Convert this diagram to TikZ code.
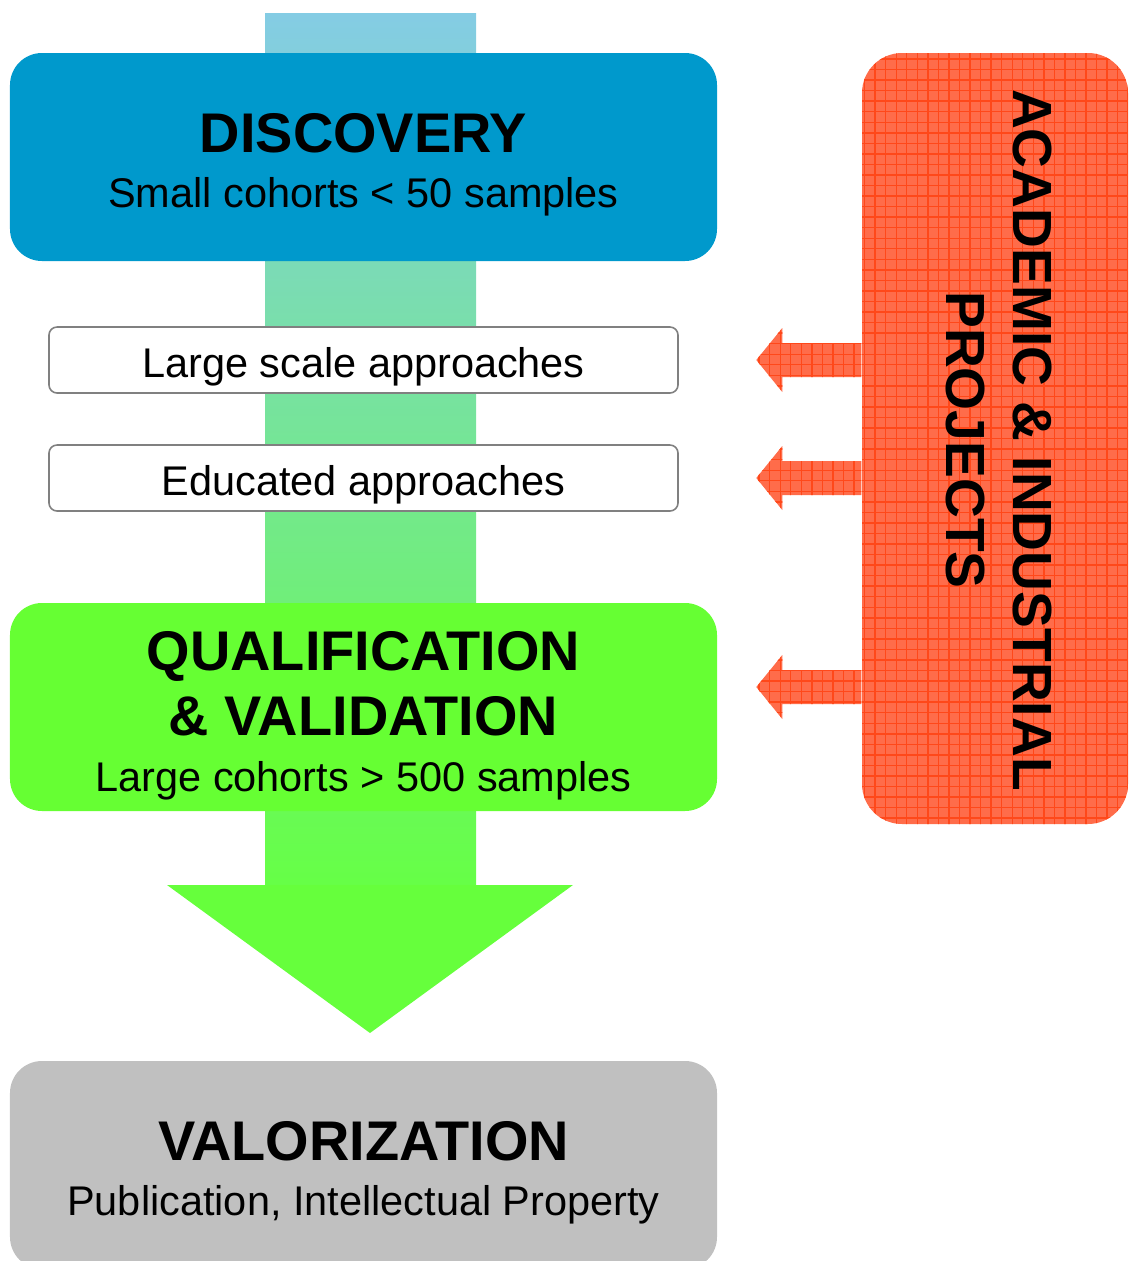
\documentclass[tikz,border=0pt]{standalone}
\usepackage{fontspec}
\setmainfont{Liberation Sans}
\usetikzlibrary{patterns}

\definecolor{DiscBlue}{RGB}{0,153,204}
\definecolor{QualGreen}{RGB}{102,255,51}
\definecolor{ValorGray}{RGB}{192,192,192}
\definecolor{ProjOrange}{RGB}{255,108,74}
\definecolor{ProjRed}{RGB}{255,72,26}
\definecolor{ShaftTop}{RGB}{132,204,228}
\definecolor{ShaftBottom}{RGB}{102,255,70}
\definecolor{HeadGreen}{RGB}{102,255,60}
\definecolor{FrameGray}{RGB}{128,128,128}

\newcommand{\titlefont}{\fontsize{15.9}{18.5}\selectfont\bfseries}
\newcommand{\bodyfont}{\fontsize{11.8}{14}\selectfont}

\begin{document}
\begin{tikzpicture}[
    stage/.style={rounded corners=0.32cm, minimum width=7.07cm, minimum height=2.08cm, inner sep=0pt},
    approach/.style={draw=FrameGray, line width=0.45pt, fill=white, rounded corners=0.08cm, minimum width=6.29cm, minimum height=0.66cm},
    title/.style={anchor=base, font=\titlefont, inner sep=0pt},
    sub/.style={anchor=base, font=\bodyfont, inner sep=0pt},
    hatch/.style={preaction={fill=ProjOrange}, pattern=grid, pattern color=ProjRed},
    projtext/.style={rotate=-90, align=center, inner sep=0pt, font=\fontsize{15.7}{19.06}\selectfont\bfseries}
]
    \useasboundingbox (0,0) rectangle (11.29,-12.61);

    % big arrow behind the stages
    \shade[top color=ShaftTop, bottom color=ShaftBottom] (2.65,-0.13) rectangle (4.76,-8.86);
    \fill[HeadGreen] (1.67,-8.85) -- (5.73,-8.85) -- (3.70,-10.33) -- cycle;

    % stages
    \node[stage, fill=DiscBlue] (disc) at (3.635,-1.57) {};
    \node[title] (disct) at (3.635,-1.525) {DISCOVERY};
    \node[sub] (discs) at (3.635,-2.07) {Small cohorts < 50 samples};

    \node[approach] (large) at (3.635,-3.60) {};
    \node[sub] (larget) at (3.635,-3.77) {Large scale approaches};
    \node[approach] (educ) at (3.635,-4.78) {};
    \node[sub] (educt) at (3.635,-4.95) {Educated approaches};

    \node[stage, fill=QualGreen] (qual) at (3.635,-7.07) {};
    \node[title] (qualt) at (3.635,-6.705) {QUALIFICATION};
    \node[title] (qualv) at (3.635,-7.355) {\& VALIDATION};
    \node[sub] (quals) at (3.635,-7.91) {Large cohorts > 500 samples};

    \node[stage, fill=ValorGray] (valor) at (3.635,-11.65) {};
    \node[title] (valort) at (3.635,-11.605) {VALORIZATION};
    \node[sub] (valors) at (3.635,-12.15) {Publication, Intellectual Property};

    % projects panel and its arrows
    \node[hatch, rounded corners=0.4cm, minimum width=2.66cm, minimum height=7.71cm, inner sep=0pt] (proj) at (9.95,-4.385) {};
    \node[projtext] (projt) at (9.99,-4.40) {ACADEMIC \& INDUSTRIAL\\PROJECTS};

    \foreach \y in {-3.60,-4.78,-6.87}
        \path[hatch] (proj.west |- 0,\y) ++(0,0.17) -- ++(-0.79,0) -- ++(0,0.15) -- ++(-0.26,-0.32)
            -- ++(0.26,-0.32) -- ++(0,0.15) -- ++(0.79,0) -- cycle;
\end{tikzpicture}
\end{document}
